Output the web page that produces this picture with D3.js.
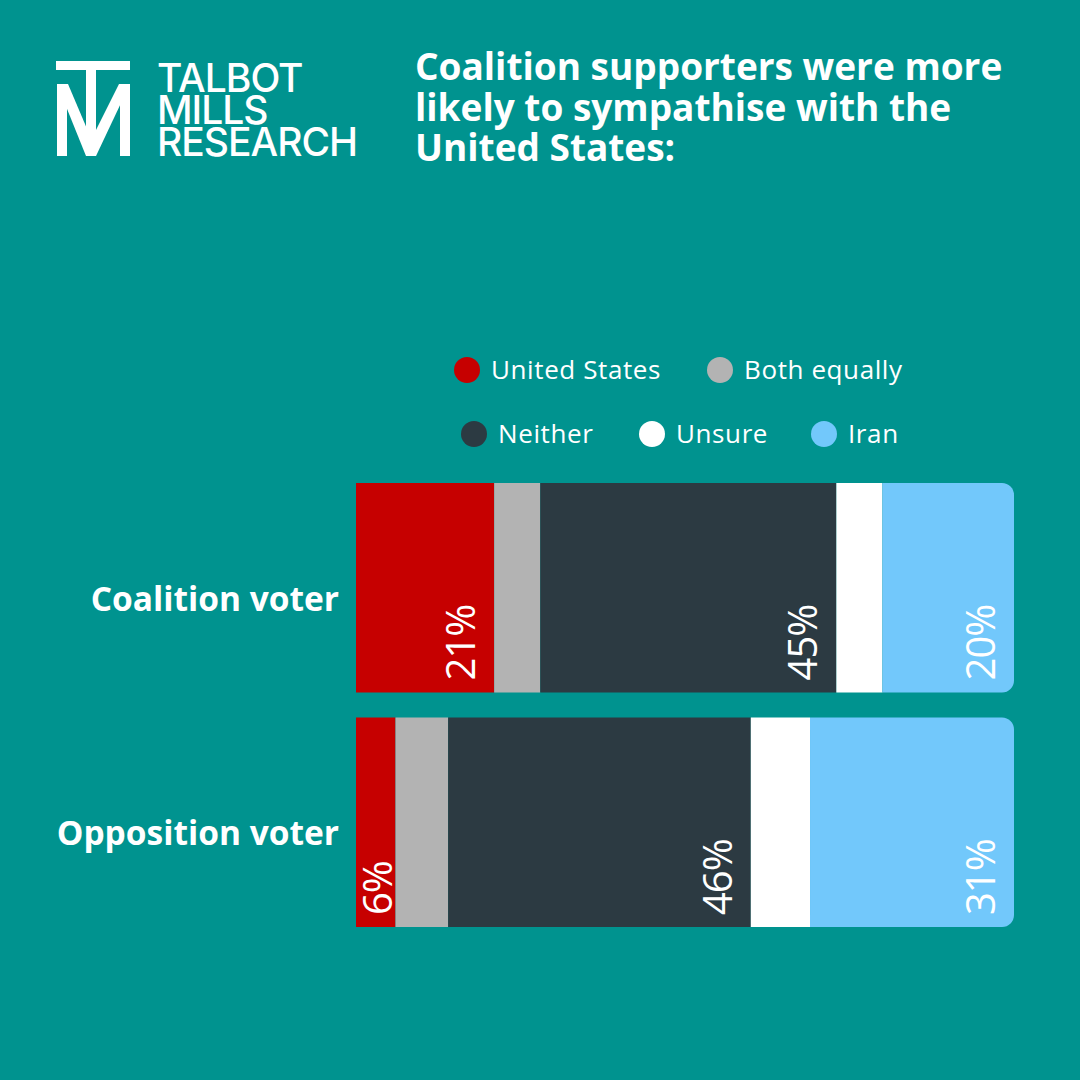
<!DOCTYPE html>
<html>
<head>
<meta charset="utf-8">
<script src="https://cdn.jsdelivr.net/npm/d3@7"></script>
<style>
  html, body { margin: 0; padding: 0; background: #00938f; }
  svg { display: block; }
</style>
</head>
<body>
<div id="chart"></div>
<script>
// Data
var groups = ["Coalition voter", "Opposition voter"];
var answers = ["United States", "Both equally", "Neither", "Unsure", "Iran"];
var colours = ["#c60000", "#b3b3b3", "#2c3a42", "#ffffff", "#72c8fb"];
var coalition = [21, 7, 45, 7, 20];
var opposition = [6, 8, 46, 9, 31];
var labelled = ["United States", "Neither", "Iran"];

var titleLines = ["Coalition supporters were more", "likely to sympathise with the", "United States:"];
var logoLines = ["TALBOT", "MILLS", "RESEARCH"];

var width = 1080, height = 1080;

var svg = d3.select("#chart").append("svg")
    .attr("width", width)
    .attr("height", height);

svg.append("rect")
    .attr("width", width)
    .attr("height", height)
    .attr("fill", "#00938f");

// Logo mark (T over M)
var logo = svg.append("g").attr("fill", "#ffffff");
logo.append("rect").attr("x", 56).attr("y", 61).attr("width", 74).attr("height", 9);
logo.append("rect").attr("x", 86).attr("y", 70).attr("width", 10).attr("height", 86);
logo.append("rect").attr("x", 57).attr("y", 84).attr("width", 10).attr("height", 72);
logo.append("rect").attr("x", 120).attr("y", 84).attr("width", 10).attr("height", 72);
logo.append("polygon").attr("points", "57,84 68,84 96,150 91,156 86,156");
logo.append("polygon").attr("points", "130,84 119,84 86,150 91,156 96,156");

svg.append("g")
    .selectAll("text")
    .data(logoLines)
    .join("text")
      .attr("x", 157)
      .attr("y", function(d, i) { return 92 + i * 32; })
      .attr("fill", "#ffffff")
      .attr("font-family", "Inter, sans-serif")
      .attr("font-weight", 500)
      .attr("font-size", 39)
      .attr("letter-spacing", -1)
      .text(function(d) { return d; });

// Title
svg.append("g")
    .selectAll("text")
    .data(titleLines)
    .join("text")
      .attr("x", 415)
      .attr("y", function(d, i) { return 80 + i * 40.5; })
      .attr("fill", "#ffffff")
      .attr("font-family", "'Open Sans', sans-serif")
      .attr("font-weight", 700)
      .attr("font-size", 37)
      .text(function(d) { return d; });

// Legend
var legendPos = [[467, 370], [720, 370], [474, 434], [652, 434], [824, 434]];
var legend = svg.append("g")
    .selectAll("g")
    .data(answers)
    .join("g")
      .attr("transform", function(d, i) { return "translate(" + legendPos[i][0] + "," + legendPos[i][1] + ")"; });

legend.append("circle")
    .attr("r", 13)
    .attr("fill", function(d, i) { return colours[i]; });

legend.append("text")
    .attr("x", 24)
    .attr("y", 9)
    .attr("fill", "#ffffff")
    .attr("font-family", "'Open Sans', sans-serif")
    .attr("font-size", 26)
    .attr("letter-spacing", 0.6)
    .text(function(d) { return d; });

// Scales
var x = d3.scaleLinear()
    .domain([0, 100])
    .range([356, 1014]);

var y = d3.scaleBand()
    .domain(groups)
    .range([483, 927])
    .paddingInner(0.107)
    .paddingOuter(0);

// Stack the values into segments
var rows = [coalition, opposition].map(function(vals, gi) {
  var acc = 0;
  return vals.map(function(v, i) {
    var seg = {group: groups[gi], answer: answers[i], colour: colours[i], value: v, x0: acc, x1: acc + v, last: i === vals.length - 1};
    acc += v;
    return seg;
  });
});
var segments = d3.merge(rows);

function segPath(d) {
  var x0 = x(d.x0), x1 = x(d.x1), y0 = y(d.group), y1 = y0 + y.bandwidth();
  if (!d.last) {
    return "M" + x0 + "," + y0 + "H" + x1 + "V" + y1 + "H" + x0 + "Z";
  }
  var r = 12;
  return "M" + x0 + "," + y0 + "H" + (x1 - r) +
         "A" + r + "," + r + " 0 0 1 " + x1 + "," + (y0 + r) +
         "V" + (y1 - r) +
         "A" + r + "," + r + " 0 0 1 " + (x1 - r) + "," + y1 +
         "H" + x0 + "Z";
}

var g = svg.append("g");

g.selectAll("path")
    .data(segments)
    .join("path")
      .attr("d", segPath)
      .attr("fill", function(d) { return d.colour; });

// Percentage labels, rotated
g.selectAll("text.value")
    .data(segments.filter(function(d) { return labelled.indexOf(d.answer) >= 0; }))
    .join("text")
      .attr("class", "value")
      .attr("transform", function(d) {
        var tx = Math.max(x(d.x0) + 36, x(d.x1) - 19);
        var ty = y(d.group) + y.bandwidth() - 12;
        return "translate(" + tx + "," + ty + ") rotate(-90)";
      })
      .attr("fill", "#ffffff")
      .attr("font-family", "'Open Sans', sans-serif")
      .attr("font-weight", 400)
      .attr("font-size", 40)
      .attr("letter-spacing", -1)
      .text(function(d) { return d.value + "%"; });

// Group labels
svg.append("g")
    .selectAll("text")
    .data(groups)
    .join("text")
      .attr("x", 339)
      .attr("y", function(d) { return y(d) + y.bandwidth() / 2 + 23; })
      .attr("text-anchor", "end")
      .attr("fill", "#ffffff")
      .attr("font-family", "'Open Sans', sans-serif")
      .attr("font-weight", 700)
      .attr("font-size", 33.5)
      .text(function(d) { return d; });
</script>
</body>
</html>
